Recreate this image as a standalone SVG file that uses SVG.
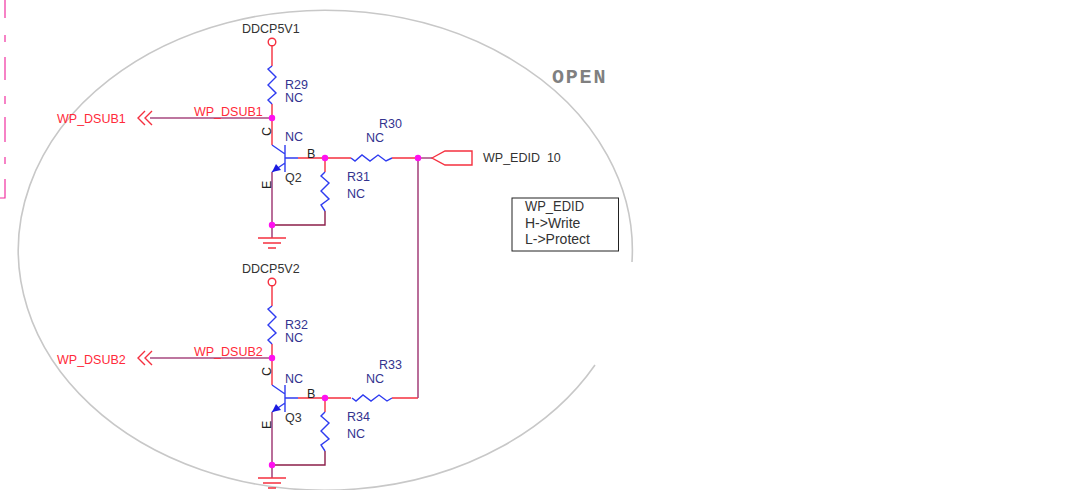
<svg xmlns="http://www.w3.org/2000/svg" width="1073" height="490" viewBox="0 0 1073 490">
<defs>
<style>
text{font-family:"Liberation Sans",Arial,sans-serif;font-size:12.500px}
.n{fill:#33338f}.k{fill:#333}.r{fill:#ff2a3a}.d{fill:#222;font-size:12.500px}
.red{fill:none;stroke:#f5303f;stroke-width:1.4}
.blue{fill:none;stroke:#2f3cf0;stroke-width:1.4}
.pur{fill:none;stroke:#a84a80;stroke-width:1.6}
.dark{fill:none;stroke:#8c1f4a;stroke-width:1.4}
.j{fill:#ff10f0}
.note{font-size:14px}
</style>
</defs>
<g id="outline"><path d="M595 365A307 240 0 1 1 632 262" fill="none" stroke="#c8c8c8" stroke-width="1.6"/></g>
<g id="border"><path d="M5 0V18M5 35V42M5 57V80M5 96V104M5 117V142M5 157V164M5 179V198H0" fill="none" stroke="#f030a0" stroke-width="1.2"/></g>
<g id="connectors">
<path class="red" d="M272 46V66M272 104V145M298 158H351M325 158V172M392 158H418"/>
<path class="pur" d="M150 118H272M272 172V238M418 158H432"/>
<path class="dark" d="M272 225H325V211"/>
<path class="red" d="M272 286V306M272 344V385M298 398H351M325 398V412M392 398H418"/>
<path class="pur" d="M150 358H272M272 412V478M418 158V398"/>
<path class="dark" d="M272 465H325V451"/>
</g>
<g id="DDCP5V1"><circle class="red" cx="272" cy="42" r="3.800"/><text class="k" x="242" y="33">DDCP5V1</text></g>
<g id="R29"><polyline class="blue" points="272,66 268,69 276,77 268,85 276,93 268,100 272,104"/><text class="n" x="285" y="89">R29</text><text class="n" x="285" y="102">NC</text></g>
<g id="WP_DSUB1">
<path class="red" d="M145 111L138 118 145 125M152 111L145 118 152 125"/>
<text class="r" x="194" y="116">WP_DSUB1</text>
<text class="r" x="57" y="123">WP_DSUB1</text>
</g>
<g id="Q2">
<path class="blue" d="M272 145L285 154M285 145V172M285 158H298M285 163L272 172"/>
<path fill="#1a1ae0" d="M272 172L276 164 281 170Z"/>
<text class="d" transform="translate(271,136) rotate(-90)">C</text>
<text class="n" x="285" y="141">NC</text>
<text class="d" x="307" y="158">B</text>
<text class="k" x="285" y="182">Q2</text>
<text class="d" transform="translate(271,189) rotate(-90)">E</text>
</g>
<g id="R31"><polyline class="blue" points="325,172 321,176 329,183 321,191 329,199 321,205 325,211"/><text class="n" x="347" y="181">R31</text><text class="n" x="347" y="198">NC</text></g>
<g id="R30"><polyline class="blue" points="351,158 355,161 362,155 370,161 378,155 386,161 392,158"/><text class="n" x="379" y="128">R30</text><text class="n" x="366" y="142">NC</text></g>
<g id="GND1"><path class="red" d="M258 238H286M263 243H281M268 248H276"/></g>
<g id="DDCP5V2"><circle class="red" cx="272" cy="282" r="3.800"/><text class="k" x="242" y="273">DDCP5V2</text></g>
<g id="R32"><polyline class="blue" points="272,306 268,309 276,317 268,325 276,333 268,340 272,344"/><text class="n" x="285" y="329">R32</text><text class="n" x="285" y="342">NC</text></g>
<g id="WP_DSUB2">
<path class="red" d="M145 351L138 358 145 365M152 351L145 358 152 365"/>
<text class="r" x="194" y="356">WP_DSUB2</text>
<text class="r" x="57" y="364">WP_DSUB2</text>
</g>
<g id="Q3">
<path class="blue" d="M272 385L285 394M285 385V412M285 398H298M285 403L272 412"/>
<path fill="#1a1ae0" d="M272 412L276 404 281 410Z"/>
<text class="d" transform="translate(271,376) rotate(-90)">C</text>
<text class="n" x="285" y="383">NC</text>
<text class="d" x="307" y="398">B</text>
<text class="k" x="285" y="422">Q3</text>
<text class="d" transform="translate(271,429) rotate(-90)">E</text>
</g>
<g id="R34"><polyline class="blue" points="325,412 321,416 329,423 321,431 329,439 321,445 325,451"/><text class="n" x="347" y="421">R34</text><text class="n" x="347" y="438">NC</text></g>
<g id="R33"><polyline class="blue" points="352,398 356,401 363,395 371,401 379,395 387,401 392,398"/><text class="n" x="379" y="369">R33</text><text class="n" x="366" y="383">NC</text></g>
<g id="GND2"><path class="red" d="M258 478H286M263 483H281M268 488H276"/></g>
<g id="junctions">
<circle class="j" cx="272" cy="118" r="3.200"/><circle class="j" cx="325" cy="158" r="3.200"/><circle class="j" cx="272" cy="225" r="3.200"/><circle class="j" cx="418" cy="158" r="3.200"/>
<circle class="j" cx="272" cy="358" r="3.200"/><circle class="j" cx="325" cy="398" r="3.200"/><circle class="j" cx="272" cy="465" r="3.200"/>
</g>
<g id="WP_EDID-port">
<path class="red" d="M432 158L445 151H472V165H445Z"/>
<text class="k" x="483" y="162" xml:space="preserve">WP_EDID  10</text>
</g>
<g id="note">
<rect x="512" y="198" width="106.500" height="53" fill="#fff" stroke="#222" stroke-width="1"/>
<text class="k note" x="525" y="211" textLength="59" lengthAdjust="spacingAndGlyphs">WP_EDID</text>
<text class="k note" x="525" y="228">H-&gt;Write</text>
<text class="k note" x="525" y="244">L-&gt;Protect</text>
</g>
<text id="open" x="552" y="83" letter-spacing="1.800" style="font-family:'Liberation Mono',monospace;font-size:20px;font-weight:bold;fill:#808080">OPEN</text>
</svg>
